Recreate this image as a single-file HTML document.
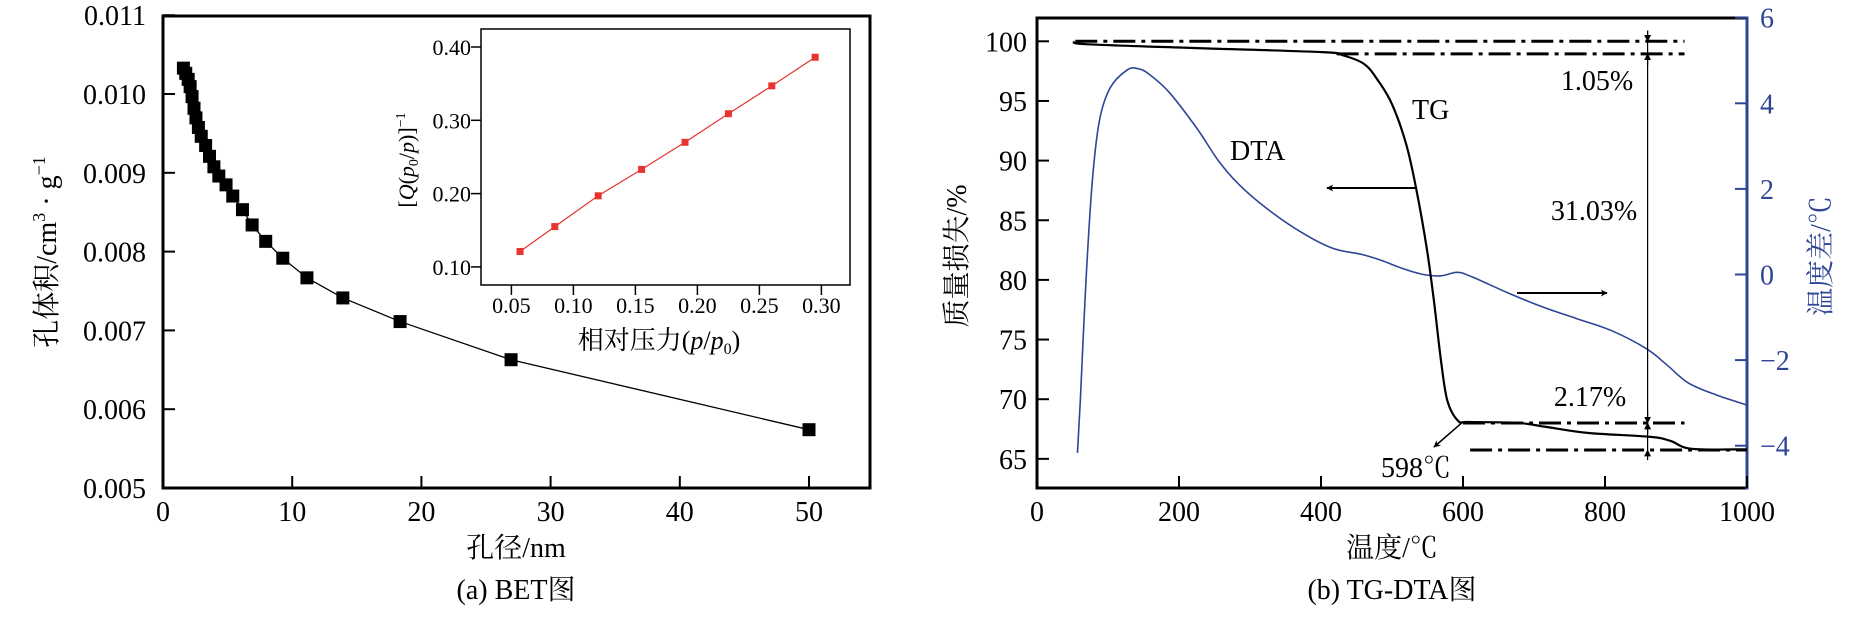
<!DOCTYPE html>
<html><head><meta charset="utf-8">
<style>
html,body{margin:0;padding:0;background:#fff;}
svg{display:block;font-family:"Liberation Serif","Noto Serif CJK SC",serif;}
</style></head>
<body>
<svg id="fig" width="1871" height="629" viewBox="0 0 1871 629" xmlns="http://www.w3.org/2000/svg">
<defs>
<marker id="ah" viewBox="0 0 10 10" refX="9" refY="5" markerWidth="9" markerHeight="7" orient="auto-start-reverse" markerUnits="userSpaceOnUse"><path d="M0,0 L10,5 L0,10 L3,5 Z" fill="#000"/></marker>
<marker id="ah2" viewBox="0 0 10 10" refX="9" refY="5" markerWidth="7" markerHeight="9" orient="auto-start-reverse" markerUnits="userSpaceOnUse"><path d="M0,0 L10,5 L0,10 Z" fill="#000"/></marker>
</defs>
<g id="bet"></g>
<g id="inset"></g>
<g id="tg"></g>
</svg>
<script>
// ---- BET main data ----
const betPore = [1.58,1.76,1.95,2.10,2.25,2.40,2.55,2.74,2.96,3.30,3.60,3.94,4.32,4.88,5.40,6.15,6.90,7.95,9.27,11.14,13.92,18.35,26.94,50.0];
const betVol = [0.010328,0.010262,0.010186,0.010094,0.009967,0.009819,0.009697,0.009575,0.009463,0.009346,0.009209,0.009076,0.008959,0.008847,0.008705,0.008532,0.008338,0.008130,0.007916,0.007667,0.007412,0.007112,0.006628,0.005740];
const betXTicks = [0,10,20,30,40,50];
const betYTicks = [0.005,0.006,0.007,0.008,0.009,0.010,0.011];
// ---- inset data ----
const insP = [0.057,0.085,0.12,0.155,0.19,0.225,0.26,0.295];
const insQ = [0.121,0.155,0.197,0.233,0.270,0.309,0.347,0.386];
const insXTicks = [0.05,0.10,0.15,0.20,0.25,0.30];
const insYTicks = [0.10,0.20,0.30,0.40];
// ---- TG / DTA data ----
const tgT = [54,69,225,402,431,461,480,500,520,534,549,559,569,578,593,608,676,716,775,863,892,922,1000];
const tgM = [100.0,99.76,99.43,99.09,98.82,98.09,96.74,94.73,91.37,87.67,82.63,78.27,73.23,69.87,68.19,68.09,68.02,67.69,67.18,66.85,66.51,65.84,65.80];
const dtaT = [57,61,69,78,88,103,127,142,157,186,225,255,284,323,373,417,457,485,515,544,569,592,612,662,711,760,809,858,887,917,956,1000];
const dtaV = [-4.17,-2.95,-0.14,2.2,3.6,4.36,4.78,4.81,4.69,4.26,3.42,2.67,2.11,1.55,0.98,0.61,0.47,0.33,0.14,0,-0.03,0.05,-0.05,-0.42,-0.75,-1.03,-1.31,-1.73,-2.11,-2.53,-2.81,-3.05];
const tgXTicks = [0,200,400,600,800,1000];
const tgYTicks = [65,70,75,80,85,90,95,100];
const dtaYTicks = [-4,-2,0,2,4,6];
const levelValues = [100.0,98.95,68.0,65.74];

const NS="http://www.w3.org/2000/svg";
function mk(parent,tag,attrs,text){const e=document.createElementNS(NS,tag);for(const k in attrs)e.setAttribute(k,attrs[k]);if(text!==undefined)e.textContent=text;parent.appendChild(e);return e;}
function smooth(pts){
  let d='M'+pts[0][0]+','+pts[0][1];
  for(let i=0;i<pts.length-1;i++){
    const p0=pts[Math.max(0,i-1)],p1=pts[i],p2=pts[i+1],p3=pts[Math.min(pts.length-1,i+2)];
    const c1x=p1[0]+(p2[0]-p0[0])/6,c1y=p1[1]+(p2[1]-p0[1])/6;
    const c2x=p2[0]-(p3[0]-p1[0])/6,c2y=p2[1]-(p3[1]-p1[1])/6;
    d+=` C${c1x},${c1y} ${c2x},${c2y} ${p2[0]},${p2[1]}`;
  }
  return d;
}

// ===== BET chart =====
(function(){
const g=document.getElementById('bet');
const L=163,R=870,T=16,B=488;
const sx=v=>L+v*12.92;
const sy=v=>B-(v-0.005)/0.001*78.8;
let e;
e=mk(g,'rect',{x:L,y:T,width:R-L,height:B-T,fill:'none',stroke:'#000','stroke-width':3});

betXTicks.forEach(v=>{
  e=mk(g,'line',{x1:sx(v),x2:sx(v),y1:B,y2:B-12,stroke:'#000','stroke-width':2});
  
  e=mk(g,'text',{x:sx(v),y:521,'font-size':28,'text-anchor':'middle'},String(v));
  
});
betYTicks.forEach(v=>{
  e=mk(g,'line',{x1:L,x2:L+12,y1:sy(v),y2:sy(v),stroke:'#000','stroke-width':2});
  
  e=mk(g,'text',{x:146,y:sy(v)+10,'font-size':28,'text-anchor':'end'},v.toFixed(3));
  
});
e=mk(g,'polyline',{points:betPore.map((p,i)=>sx(p)+','+sy(betVol[i])).join(' '),fill:'none',stroke:'#000','stroke-width':1.3});

betPore.forEach((p,i)=>{
  e=mk(g,'rect',{x:sx(p)-6.5,y:sy(betVol[i])-6.5,width:13,height:13,fill:'#000'});
  
});
e=mk(g,'text',{x:516,y:557,'font-size':28,'text-anchor':'middle'},'孔径/nm');

e=mk(g,'text',{x:516,y:599,'font-size':28,'text-anchor':'middle'},'(a) BET图');

e=mk(g,'text',{transform:'translate(56,252) rotate(-90)','font-size':28,'text-anchor':'middle'});

e.innerHTML='孔体积/cm<tspan font-size="18" dy="-11">3</tspan><tspan dy="11"> · g</tspan><tspan font-size="18" dy="-11">−1</tspan>';
})();

// ===== Inset =====
(function(){
const g=document.getElementById('inset');
const L=481,R=850,T=29,B=285;
const sx=v=>511.4+(v-0.05)/0.05*62;
const sy=v=>266.9-(v-0.10)/0.1*73.3;
let e;
e=mk(g,'rect',{x:L,y:T,width:R-L,height:B-T,fill:'#fff',stroke:'#000','stroke-width':1.5});

insXTicks.forEach(v=>{
  e=mk(g,'line',{x1:sx(v),x2:sx(v),y1:B,y2:B+10,stroke:'#000','stroke-width':1.5});
  
  e=mk(g,'text',{x:sx(v),y:313,'font-size':22,'text-anchor':'middle'},v.toFixed(2));
  
});
insYTicks.forEach(v=>{
  e=mk(g,'line',{x1:L,x2:L-10,y1:sy(v),y2:sy(v),stroke:'#000','stroke-width':1.5});
  
  e=mk(g,'text',{x:471,y:sy(v)+8,'font-size':22,'text-anchor':'end'},v.toFixed(2));
  
});
e=mk(g,'polyline',{points:insP.map((p,i)=>sx(p)+','+sy(insQ[i])).join(' '),fill:'none',stroke:'#e8332e','stroke-width':1.2});

insP.forEach((p,i)=>{
  e=mk(g,'rect',{x:sx(p)-3.5,y:sy(insQ[i])-3.5,width:7,height:7,fill:'#e8332e'});
  
});
e=mk(g,'text',{x:659,y:349,'font-size':26,'text-anchor':'middle'});

e.innerHTML='相对压力(<tspan font-style="italic">p</tspan>/<tspan font-style="italic">p</tspan><tspan font-size="16" dy="5">0</tspan><tspan dy="-5">)</tspan>';
e=mk(g,'text',{transform:'translate(414,160) rotate(-90)','font-size':22,'text-anchor':'middle'});

e.innerHTML='[<tspan font-style="italic">Q</tspan>(<tspan font-style="italic">p</tspan><tspan font-size="14" dy="4">0</tspan><tspan dy="-4">/</tspan><tspan font-style="italic">p</tspan>)]<tspan font-size="14" dy="-9">−1</tspan>';
})();

// ===== TG-DTA =====
(function(){
const g=document.getElementById('tg');
const L=1037,R=1747,T=18,B=488;
const sx=v=>L+v*0.71;
const sy=v=>41.3+(100-v)*11.93;
const sy2=v=>274.5-v*42.8;
const blue='#2e4596';
let e;
e=mk(g,'path',{d:`M${R},${T} L${L},${T} L${L},${B} L${R},${B}`,fill:'none',stroke:'#000','stroke-width':3});

e=mk(g,'line',{x1:R,x2:R,y1:T-1.5,y2:B+1.5,stroke:blue,'stroke-width':3});

tgXTicks.forEach(v=>{
  e=mk(g,'line',{x1:sx(v),x2:sx(v),y1:B,y2:B-12,stroke:'#000','stroke-width':2});
  
  e=mk(g,'text',{x:sx(v),y:521,'font-size':28,'text-anchor':'middle'},String(v));
  
});
tgYTicks.forEach(v=>{
  e=mk(g,'line',{x1:L,x2:L+12,y1:sy(v),y2:sy(v),stroke:'#000','stroke-width':2});
  
  e=mk(g,'text',{x:1027,y:sy(v)+10,'font-size':28,'text-anchor':'end'},String(v));
  
});
dtaYTicks.forEach(v=>{
  e=mk(g,'line',{x1:R,x2:R-12,y1:sy2(v),y2:sy2(v),stroke:blue,'stroke-width':2});
  
  e=mk(g,'text',{x:1760,y:sy2(v)+10,'font-size':28,fill:blue},(v<0?'−':'')+Math.abs(v));
  
});
const lvlStart=[54,422,600,610], lvlEnd=[912,912,912,1000];
levelValues.forEach((v,i)=>{
  e=mk(g,'line',{x1:sx(lvlStart[i]),x2:sx(lvlEnd[i]),y1:sy(v),y2:sy(v),stroke:'#000','stroke-width':3,'stroke-dasharray':'22 6 4 6'});
  
});
e=mk(g,'path',{d:smooth(dtaT.map((t,i)=>[sx(t),sy2(dtaV[i])])),fill:'none',stroke:blue,'stroke-width':1.6,'stroke-linejoin':'round'});

e=mk(g,'path',{d:smooth(tgT.map((t,i)=>[sx(t),sy(tgM[i])])),fill:'none',stroke:'#000','stroke-width':2.2,'stroke-linejoin':'round'});

const vx=sx(860);
e=mk(g,'line',{x1:vx,x2:vx,y1:sy(100.9),y2:sy(65.74),stroke:'#000','stroke-width':1.2});

[[100.9,100.0],[98.0,98.95],[69.0,68.0],[67.1,68.0],[64.9,65.74]].forEach(p=>{
  e=mk(g,'line',{x1:vx,x2:vx,y1:sy(p[0]),y2:sy(p[1]),stroke:'#000','stroke-width':1.2,'marker-end':'url(#ah2)'});
  
});
e=mk(g,'line',{x1:1415,y1:188,x2:1327,y2:188,stroke:'#000','stroke-width':2,'marker-end':'url(#ah)'});

e=mk(g,'line',{x1:1517,y1:293,x2:1607,y2:293,stroke:'#000','stroke-width':2,'marker-end':'url(#ah)'});

e=mk(g,'line',{x1:sx(598),y1:sy(68),x2:1434,y2:447,stroke:'#000','stroke-width':1.5,'marker-end':'url(#ah)'});

const lab=(x,y,t,n,anchor)=>{e=mk(g,'text',{x:x,y:y,'font-size':28,'text-anchor':anchor||'middle'},t);};
lab(1597,90,'1.05%','label-1-05');
lab(1594,220,'31.03%','label-31-03');
lab(1590,406,'2.17%','label-2-17');
lab(1416,477,'598℃','label-598c');
lab(1412,119,'TG','tg-label','start');
lab(1230,160,'DTA','dta-label','start');
lab(1392,557,'温度/℃','x-axis-title');
lab(1392,599,'(b) TG-DTA图','caption-b');
e=mk(g,'text',{transform:'translate(966,256) rotate(-90)','font-size':28,'text-anchor':'middle'},'质量损失/%');

e=mk(g,'text',{transform:'translate(1830,256) rotate(-90)','font-size':28,'text-anchor':'middle',fill:blue},'温度差/℃');

})();
</script>
</body></html>
